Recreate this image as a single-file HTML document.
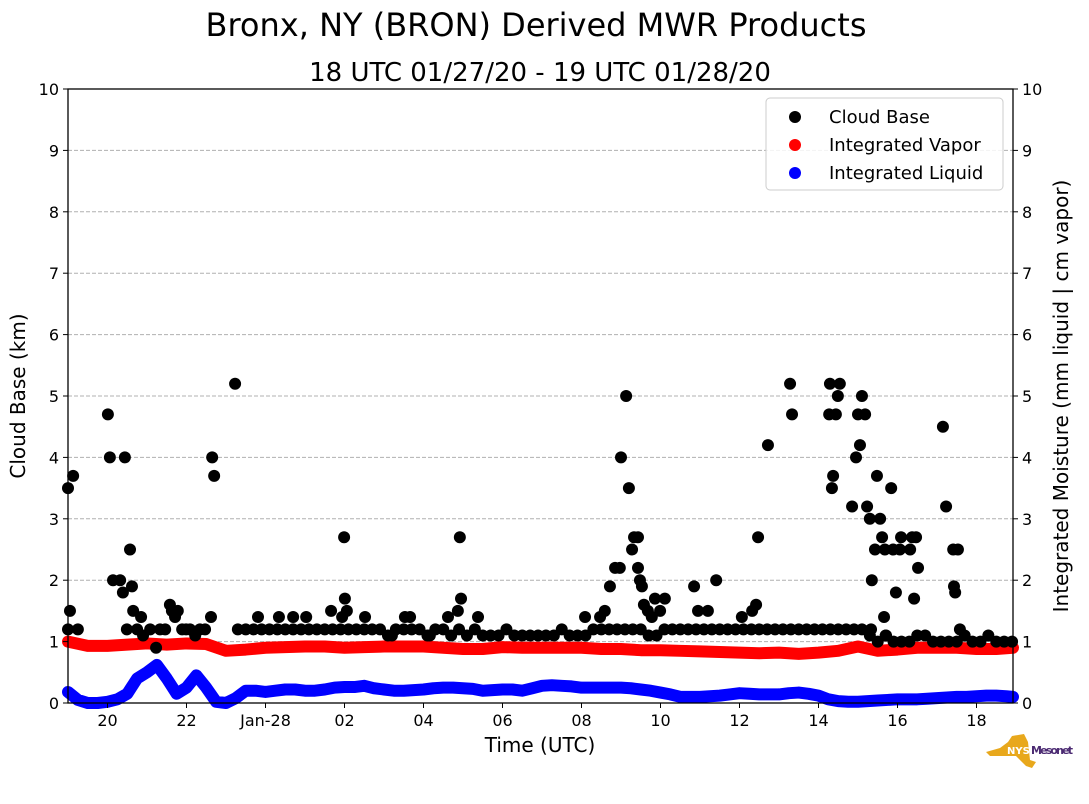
<!DOCTYPE html>
<html><head><meta charset="utf-8"><style>
body{margin:0;background:#fff;}
svg{display:block;font-family:"DejaVu Sans","Liberation Sans",sans-serif;}
</style></head><body>
<svg id="chart" width="1089" height="804" xmlns="http://www.w3.org/2000/svg">
<text x="536" y="36" font-size="32" text-anchor="middle">Bronx, NY (BRON) Derived MWR Products</text>
<text x="540" y="81" font-size="26" text-anchor="middle">18 UTC 01/27/20 - 19 UTC 01/28/20</text>
<g id="grid"></g>
<g id="marks"></g>
<rect x="68" y="89" width="945" height="614" fill="none" stroke="#000" stroke-width="1.3"/>
<g id="axes" font-size="16"></g>
<text x="540" y="752" font-size="20" text-anchor="middle">Time (UTC)</text>
<text transform="translate(25,396) rotate(-90)" font-size="20" text-anchor="middle">Cloud Base (km)</text>
<text transform="translate(1068,396) rotate(-90)" font-size="20" text-anchor="middle">Integrated Moisture (mm liquid | cm vapor)</text>
<g>
<rect x="766" y="98" width="237" height="92" rx="4" fill="#fff" fill-opacity="0.85" stroke="#ccc"/>
<circle cx="795" cy="117" r="6" fill="#000"/>
<text x="829" y="123" font-size="18">Cloud Base</text>
<circle cx="795" cy="145" r="6" fill="#f00"/>
<text x="829" y="151" font-size="18">Integrated Vapor</text>
<circle cx="795" cy="173" r="6" fill="#00f"/>
<text x="829" y="179" font-size="18">Integrated Liquid</text>
</g>
<g>
<path d="M986 752 L1000 748 L1008 742 L1012 736 L1024 734 L1028 742 L1030 760 L1036 762 L1032 768 L1026 766 L1016 756 L990 756 Z" fill="#e8a81c"/>
<text x="1007" y="754" font-size="10" font-weight="bold" fill="#fff">NYS</text>
<text x="1031" y="754" font-size="11" font-weight="bold" fill="#4b2a72" textLength="42">Mesonet</text>
</g>
</svg>
<script>
const xTickHours=[1,3,5,7,9,11,13,15,17,19,21,23];
const xTickLabels=["20","22","Jan-28","02","04","06","08","10","12","14","16","18"];
const yTicks=[0,1,2,3,4,5,6,7,8,9,10];
const vaporStep=0.5;
const vaporValues=[1.0,0.93,0.93,0.95,0.97,0.95,0.97,0.96,0.85,0.87,0.9,0.91,0.92,0.92,0.9,0.91,0.92,0.92,0.92,0.9,0.88,0.88,0.91,0.9,0.9,0.9,0.9,0.88,0.88,0.86,0.86,0.85,0.84,0.83,0.82,0.81,0.82,0.8,0.82,0.85,0.92,0.85,0.87,0.9,0.9,0.9,0.88,0.88,0.9];
const liquidStep=0.25;
const liquidValues=[0.18,0.05,0.0,0.0,0.02,0.06,0.15,0.4,0.5,0.62,0.4,0.15,0.25,0.45,0.25,0.02,0.0,0.08,0.2,0.2,0.18,0.2,0.22,0.22,0.2,0.2,0.22,0.25,0.26,0.26,0.28,0.24,0.22,0.2,0.2,0.21,0.22,0.24,0.25,0.25,0.24,0.23,0.2,0.21,0.22,0.22,0.2,0.24,0.28,0.29,0.28,0.27,0.25,0.25,0.25,0.25,0.25,0.24,0.22,0.2,0.17,0.14,0.1,0.1,0.1,0.11,0.12,0.14,0.16,0.15,0.14,0.14,0.14,0.16,0.17,0.15,0.12,0.06,0.03,0.02,0.02,0.03,0.04,0.05,0.06,0.06,0.06,0.07,0.08,0.09,0.1,0.1,0.11,0.12,0.12,0.11,0.1,0.11,0.12,0.13,0.13,0.14,0.15];
const bandStart=4.3, bandStep=0.2;
const bandValues=[1.2,1.2,1.2,1.2,1.2,1.2,1.2,1.2,1.2,1.2,1.2,1.2,1.2,1.2,1.2,1.2,1.2,1.2,1.2,1.1,1.2,1.2,1.2,1.2,1.1,1.2,1.2,1.1,1.2,1.1,1.2,1.1,1.1,1.1,1.2,1.1,1.1,1.1,1.1,1.1,1.1,1.2,1.1,1.1,1.1,1.2,1.2,1.2,1.2,1.2,1.2,1.2,1.1,1.1,1.2,1.2,1.2,1.2,1.2,1.2,1.2,1.2,1.2,1.2,1.2,1.2,1.2,1.2,1.2,1.2,1.2,1.2,1.2,1.2,1.2,1.2,1.2,1.2,1.2,1.2,1.1,1.0,1.1,1.0,1.0,1.0,1.1,1.1,1.0,1.0,1.0,1.0,1.1,1.0,1.0,1.1,1.0,1.0,1.0];
const cloudHours=[0,0.05,0.13,0,0.25,1.01,1.06,1.14,1.32,1.39,1.44,1.49,1.57,1.62,1.65,1.75,1.85,1.9,2.08,2.23,2.33,2.46,2.58,2.63,2.71,2.78,2.89,2.99,3.09,3.22,3.34,3.47,3.62,3.65,3.7,4.23,4.81,5.34,5.7,6.03,6.66,6.99,7.01,7.06,6.94,7.52,8.2,8.53,8.66,9.16,9.62,9.87,9.95,9.92,10.38,13.09,13.47,13.59,13.72,13.85,13.97,14.0,14.13,14.2,14.28,14.33,14.43,14.43,14.48,14.53,14.58,14.68,14.86,14.99,15.11,14.78,15.85,15.95,16.41,16.2,17.06,17.32,17.42,17.47,17.72,18.28,18.33,19.27,19.29,19.34,19.37,19.44,19.49,19.54,19.85,19.95,20.0,20.05,20.1,20.18,20.23,20.3,20.35,20.33,20.43,20.48,20.56,20.61,20.66,20.68,20.71,20.84,20.89,20.96,21.06,21.09,21.32,21.37,21.42,21.47,21.52,22.15,22.23,22.41,22.43,22.46,22.53,22.58];
const cloudValues=[3.5,1.5,3.7,1.2,1.2,4.7,4.0,2.0,2.0,1.8,4.0,1.2,2.5,1.9,1.5,1.2,1.4,1.1,1.2,0.9,1.2,1.2,1.6,1.5,1.4,1.5,1.2,1.2,1.2,1.1,1.2,1.2,1.4,4.0,3.7,5.2,1.4,1.4,1.4,1.4,1.5,2.7,1.7,1.5,1.4,1.4,1.1,1.4,1.4,1.1,1.4,1.5,1.7,2.7,1.4,1.4,1.4,1.5,1.9,2.2,2.2,4.0,5.0,3.5,2.5,2.7,2.7,2.2,2.0,1.9,1.6,1.5,1.7,1.5,1.7,1.4,1.9,1.5,2.0,1.5,1.4,1.5,1.6,2.7,4.2,5.2,4.7,4.7,5.2,3.5,3.7,4.7,5.0,5.2,3.2,4.0,4.7,4.2,5.0,4.7,3.2,3.0,2.0,1.2,2.5,3.7,3.0,2.7,1.4,2.5,1.1,3.5,2.5,1.8,2.5,2.7,2.5,2.7,1.7,2.7,2.2,4.5,3.2,2.5,1.9,1.8,2.5,1.2];

const NS="http://www.w3.org/2000/svg";
const X0=68,X1=1013,Y0=703,Y1=89,HMAX=(1013-68)/39.5;
const xs=h=>X0+h*39.5;
const ys=v=>Y0-(v/10)*(Y0-Y1);
function mk(tag,attrs,parent){const e=document.createElementNS(NS,tag);for(const k in attrs)e.setAttribute(k,attrs[k]);parent.appendChild(e);return e;}
const grid=document.getElementById('grid'),axes=document.getElementById('axes'),marks=document.getElementById('marks');
yTicks.forEach(v=>{
  const y=ys(v);
  if(v>0&&v<10){const g=mk('line',{x1:X0,x2:X1,y1:y,y2:y,stroke:'#b0b0b0','stroke-dasharray':'4,2','stroke-width':1},grid);
  
  }
  mk('line',{x1:X0-5,x2:X0,y1:y,y2:y,stroke:'#000'},axes);
  mk('line',{x1:X1,x2:X1+5,y1:y,y2:y,stroke:'#000'},axes);
  const t1=mk('text',{x:X0-9,y:y+6,'text-anchor':'end'},axes);t1.textContent=v;
  
  
  const t2=mk('text',{x:X1+9,y:y+6},axes);t2.textContent=v;
  
  
});
xTickHours.forEach((h,i)=>{
  const x=xs(h);
  mk('line',{x1:x,x2:x,y1:Y0,y2:Y0+5,stroke:'#000'},axes);
  const t=mk('text',{x:x,y:Y0+23,'text-anchor':'middle'},axes);t.textContent=xTickLabels[i];
  
  
});
function series(vals,step,color,name){
  const pts=vals.map((v,i)=>[i*step,v]).filter(p=>p[0]<=HMAX+0.1);
  const g=mk('g',{},marks);
  
  
  mk('polyline',{points:pts.map(p=>Math.min(xs(p[0]),X1)+','+ys(p[1])).join(' '),fill:'none',stroke:color,'stroke-width':12,'stroke-linejoin':'round','stroke-linecap':'round'},g);
}
series(vaporValues,vaporStep,'#f00','integrated-vapor-series');
series(liquidValues,liquidStep,'#00f','integrated-liquid-series');
const cg=mk('g',{},marks);


bandValues.forEach((v,i)=>{
  const c=mk('circle',{cx:xs(bandStart+i*bandStep),cy:ys(v),r:6,fill:'#000'},cg);
  
  
});
cloudHours.forEach((h,i)=>{
  const c=mk('circle',{cx:xs(h),cy:ys(cloudValues[i]),r:6,fill:'#000'},cg);
  
  
});
</script>
</body></html>
